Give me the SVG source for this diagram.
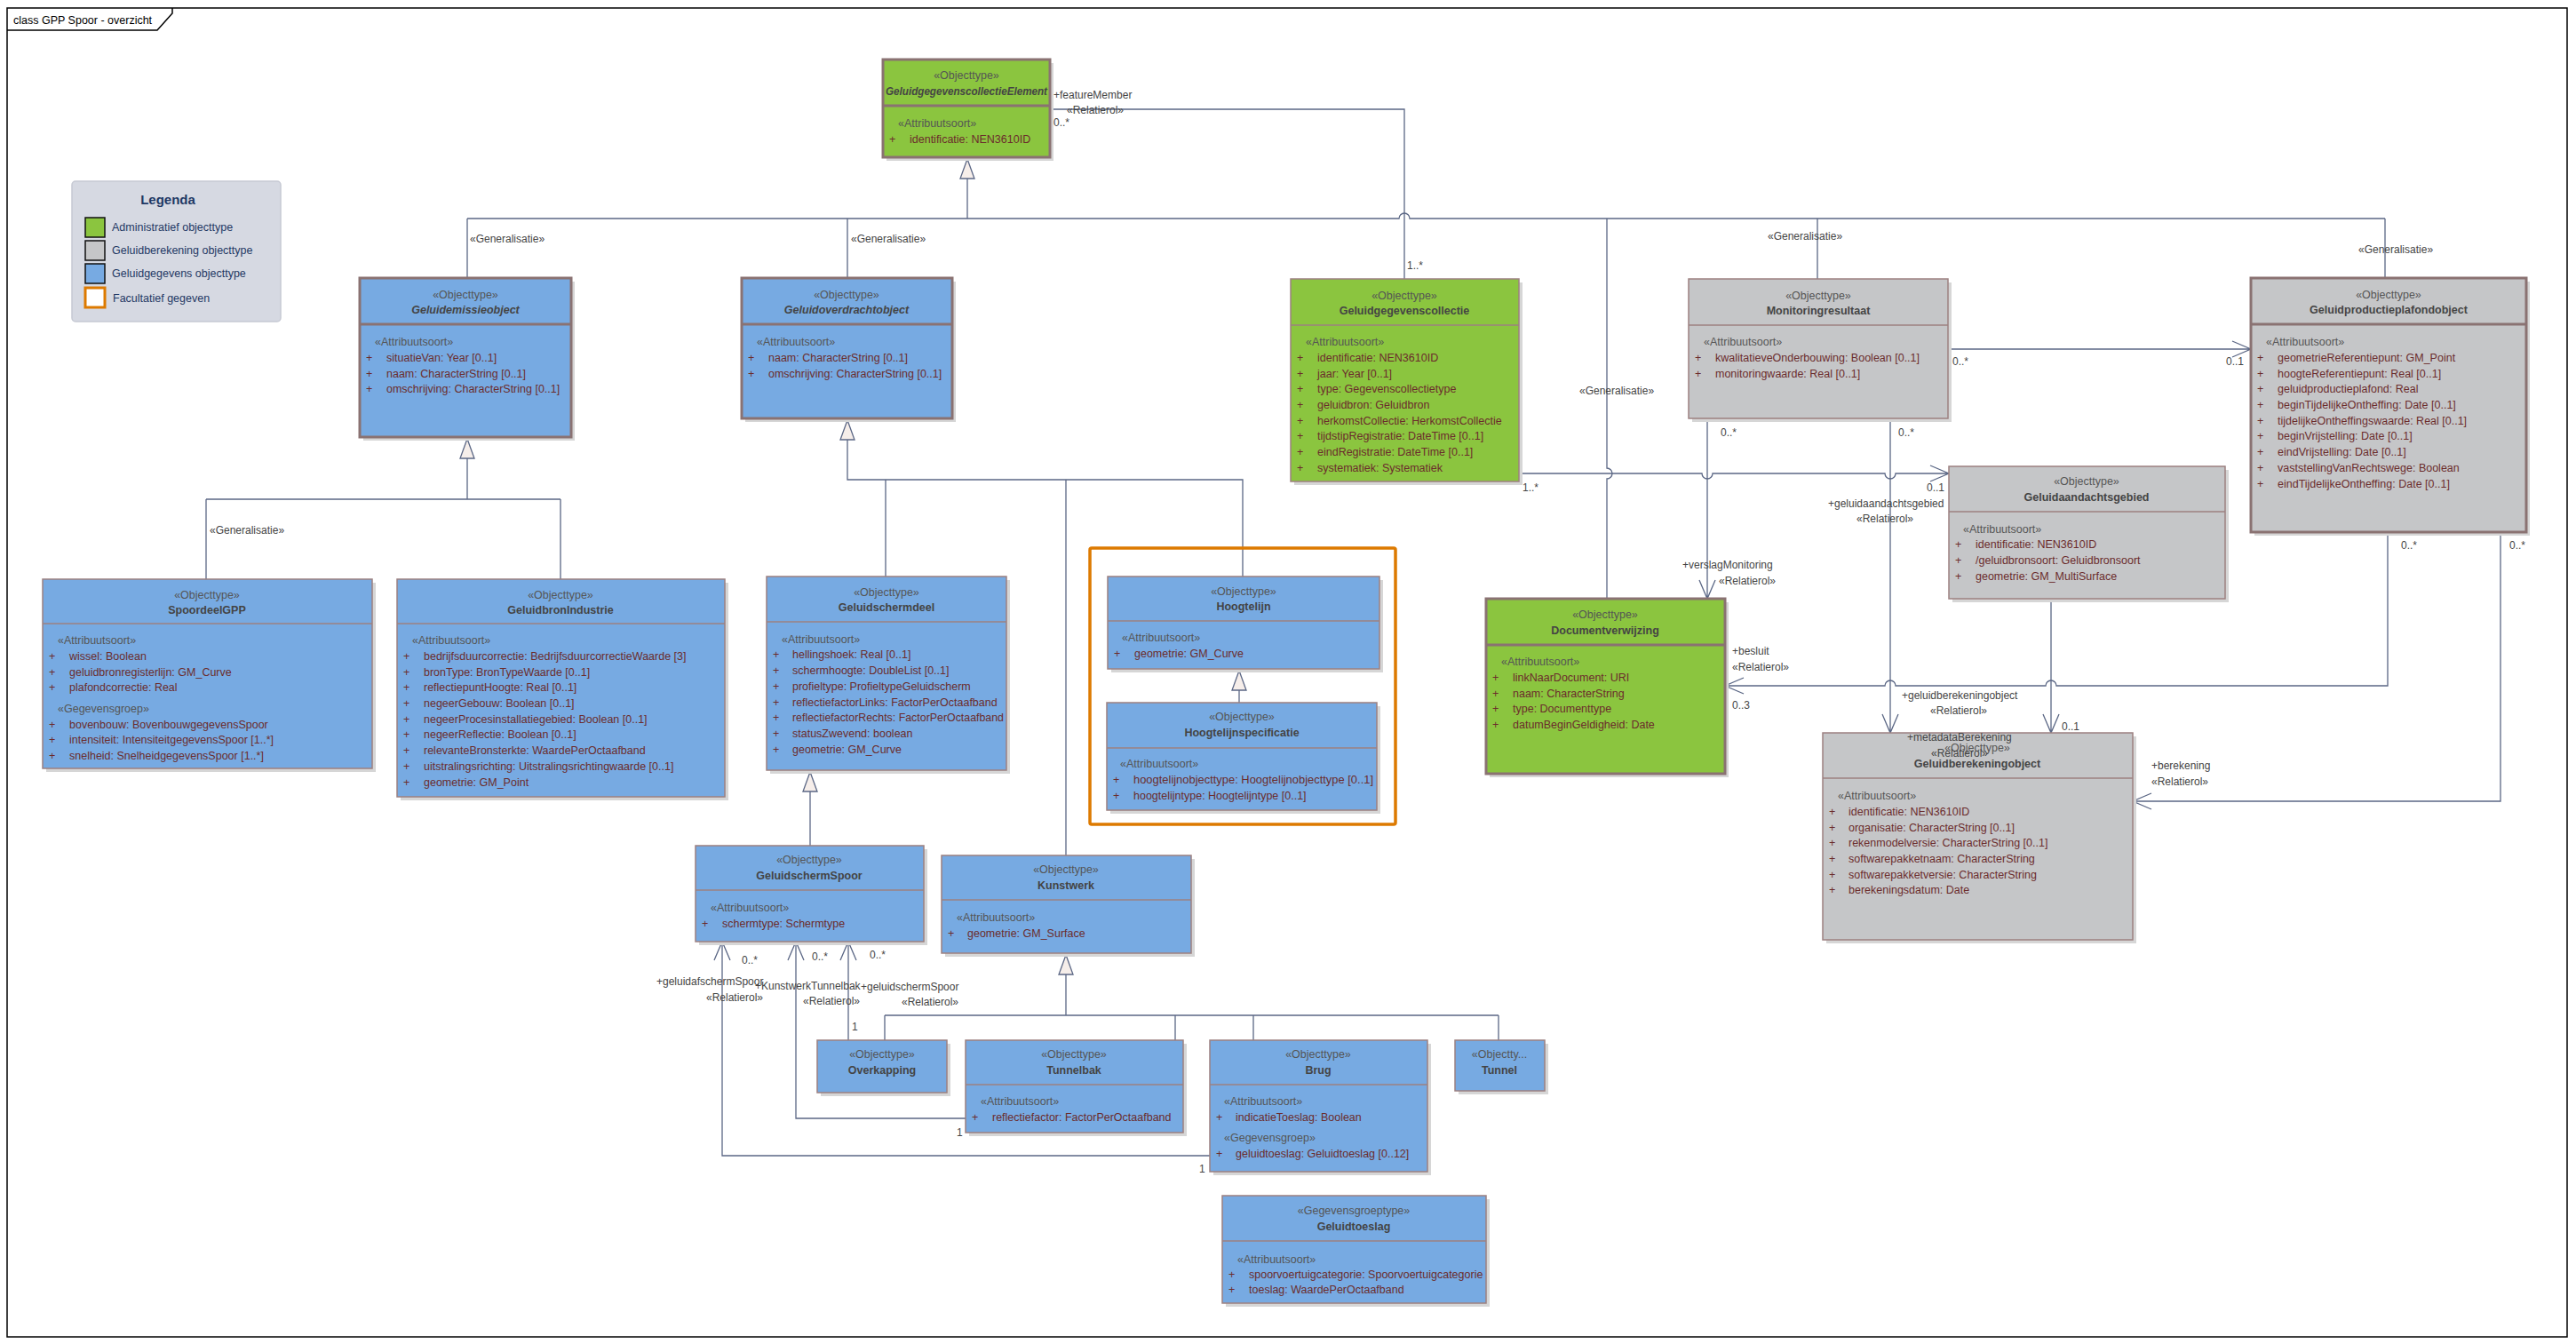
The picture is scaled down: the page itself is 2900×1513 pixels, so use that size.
<svg xmlns="http://www.w3.org/2000/svg" width="2900" height="1513" viewBox="0 0 2900 1513">
<style>
text{font-family:'Liberation Sans',Arial,sans-serif;font-size:12.5px}
.st{fill:#555;text-anchor:middle}
.nm{fill:#444;font-weight:bold;text-anchor:middle}
.it{font-style:italic}
.hd{fill:#555}
.at{fill:#6b2c2c}
.lb{fill:#444;font-size:12px}
.sh{fill:#d6d6d6}
.bg{fill:#8bc53f}
.bb{fill:#77aae2}
.by{fill:#c5c6c8}
.bd{stroke:#9c8080;stroke-width:1.5}
.bt{stroke:#8a7272;stroke-width:3}
.cn{fill:none;stroke:#5b6785;stroke-width:1.3}
.tri{fill:#f6eeea;stroke:#5b6785;stroke-width:1.3}
.lg{fill:#1f3864}
</style>
<rect width="2900" height="1513" fill="#fff"/>
<g id="frame">
<rect x="8" y="9" width="2882" height="1496" fill="none" stroke="#000" stroke-width="1.5"/>
<path d="M8,34 H177 L194,15 V9" fill="none" stroke="#000" stroke-width="1.5"/>
<text x="15" y="27" fill="#000">class GPP Spoor - overzicht</text>
</g>
<g id="legenda">
<rect x="81" y="204" width="235" height="158" rx="4" fill="#d6d9e2" stroke="#c6c9d3" stroke-width="1.5"/>
<text x="189" y="230" class="lg" style="font-size:15px;font-weight:bold;text-anchor:middle">Legenda</text>
<rect x="96" y="245" width="22" height="22" fill="#8bc53f" stroke="#111" stroke-width="1.5"/>
<rect x="96" y="271" width="22" height="22" fill="#c5c6c8" stroke="#111" stroke-width="1.5"/>
<rect x="96" y="297" width="22" height="22" fill="#77aae2" stroke="#111" stroke-width="1.5"/>
<rect x="96" y="324" width="22" height="22" fill="#fff" stroke="#dd7a00" stroke-width="3"/>
<text x="126" y="260" class="lg">Administratief objecttype</text>
<text x="126" y="286" class="lg">Geluidberekening objecttype</text>
<text x="126" y="312" class="lg">Geluidgegevens objecttype</text>
<text x="127" y="340" class="lg">Facultatief gegeven</text>
</g>
<g id="connectors">
<path class="cn" d="M1089,201 V246"/>
<path class="cn" d="M526,246 H1575 A6,6 0 0 1 1587,246 H2685"/>
<path class="cn" d="M526,246 V313 M954,246 V313 M2046,246 V314 M2685,246 V313"/>
<path class="cn" d="M1809,246 V527 A6,6 0 0 1 1809,539 V674"/>
<path class="cn" d="M526,516 V562 M232,562 H631 M232,562 V652 M631,562 V652"/>
<path class="cn" d="M954,495 V540 H1399 V649 M997,540 V649 M1200,540 V963"/>
<path class="cn" d="M912,891 V952"/>
<path class="cn" d="M1395,777 V791"/>
<path class="cn" d="M1200,1097 V1143 M996,1143 H1687 M996,1143 V1171 M1323,1143 V1171 M1411,1143 V1171 M1687,1143 V1171"/>
<path class="cn" d="M1182,123 H1581 V314"/>
<path class="cn" d="M1710,533 H1916 A6,6 0 0 0 1928,533 H2122 A6,6 0 0 0 2134,533 H2194 M2173,524 L2194,533 L2173,542"/>
<path class="cn" d="M2193,393 H2534 M2513,384 L2534,393 L2513,402"/>
<path class="cn" d="M1922,471 V674 M1913,653 L1922,674 L1931,653"/>
<path class="cn" d="M2128,471 V825 M2119,804 L2128,825 L2137,804"/>
<path class="cn" d="M2309,674 V825 M2300,804 L2309,825 L2318,804"/>
<path class="cn" d="M2688,599 V772 H2315 A6,6 0 0 0 2303,772 H2134 A6,6 0 0 0 2122,772 H1942 M1963,763 L1942,772 L1963,781"/>
<path class="cn" d="M2815,599 V902 H2401 M2422,893 L2401,902 L2422,911"/>
<path class="cn" d="M813,1060 V1301 H1362 M804,1081 L813,1060 L822,1081"/>
<path class="cn" d="M896,1060 V1259 H1087 M887,1081 L896,1060 L905,1081"/>
<path class="cn" d="M955,1060 V1171 M946,1081 L955,1060 L964,1081"/>
<polygon class="tri" points="1089,179 1081,201 1097,201"/>
<polygon class="tri" points="526,494 518,516 534,516"/>
<polygon class="tri" points="954,473 946,495 962,495"/>
<polygon class="tri" points="912,869 904,891 920,891"/>
<polygon class="tri" points="1395,755 1387,777 1403,777"/>
<polygon class="tri" points="1200,1075 1192,1097 1208,1097"/>
<text class="lb" x="529" y="273">«Generalisatie»</text>
<text class="lb" x="958" y="273">«Generalisatie»</text>
<text class="lb" x="236" y="601">«Generalisatie»</text>
<text class="lb" x="1778" y="444">«Generalisatie»</text>
<text class="lb" x="1990" y="270">«Generalisatie»</text>
<text class="lb" x="2655" y="285">«Generalisatie»</text>
<text class="lb" x="1186" y="111">+featureMember</text>
<text class="lb" x="1201" y="128">«Relatierol»</text>
<text class="lb" x="1186" y="142">0..*</text>
<text class="lb" x="1584" y="303">1..*</text>
<text class="lb" x="2198" y="411">0..*</text>
<text class="lb" x="2506" y="411">0..1</text>
<text class="lb" x="2557" y="407">+geluidproductieplafondobject</text>
<text class="lb" x="2605" y="427">«Relatierol»</text>
<text class="lb" x="1937" y="491">0..*</text>
<text class="lb" x="2137" y="491">0..*</text>
<text class="lb" x="1714" y="553">1..*</text>
<text class="lb" x="2169" y="553">0..1</text>
<text class="lb" x="2058" y="571">+geluidaandachtsgebied</text>
<text class="lb" x="2090" y="588">«Relatierol»</text>
<text class="lb" x="1894" y="640">+verslagMonitoring</text>
<text class="lb" x="1935" y="658">«Relatierol»</text>
<text class="lb" x="1950" y="737">+besluit</text>
<text class="lb" x="1950" y="755">«Relatierol»</text>
<text class="lb" x="1950" y="798">0..3</text>
<text class="lb" x="2141" y="787">+geluidberekeningobject</text>
<text class="lb" x="2173" y="804">«Relatierol»</text>
<text class="lb" x="2321" y="822">0..1</text>
<text class="lb" x="2422" y="866">+berekening</text>
<text class="lb" x="2422" y="884">«Relatierol»</text>
<text class="lb" x="2703" y="618">0..*</text>
<text class="lb" x="2825" y="618">0..*</text>
<text class="lb" x="835" y="1085">0..*</text>
<text class="lb" x="914" y="1081">0..*</text>
<text class="lb" x="979" y="1079">0..*</text>
<text class="lb" x="739" y="1109">+geluidafschermSpoor</text>
<text class="lb" x="795" y="1127">«Relatierol»</text>
<text class="lb" x="850" y="1114">+KunstwerkTunnelbak</text>
<text class="lb" x="904" y="1131">«Relatierol»</text>
<text class="lb" x="969" y="1115">+geluidschermSpoor</text>
<text class="lb" x="1015" y="1132">«Relatierol»</text>
<text class="lb" x="959" y="1160">1</text>
<text class="lb" x="1077" y="1279">1</text>
<text class="lb" x="1350" y="1320">1</text>
</g>
<g id="GeluidgegevenscollectieElement">
<rect class="sh" x="998" y="71" width="188" height="110"/>
<rect class="bg bt" x="994" y="67" width="188" height="110"/>
<line class="bt" x1="994" y1="119" x2="1182" y2="119"/>
<text class="st" x="1088" y="89">«Objecttype»</text>
<text class="nm it" x="1088" y="107" textLength="182" lengthAdjust="spacingAndGlyphs">GeluidgegevenscollectieElement</text>
<text class="hd" x="1011" y="143">«Attribuutsoort»</text>
<text class="at" x="1001" y="161">+</text><text class="at" x="1024" y="161">identificatie: NEN3610ID</text>
</g>
<g id="Geluidemissieobject">
<rect class="sh" x="409" y="317" width="238" height="179"/>
<rect class="bb bt" x="405" y="313" width="238" height="179"/>
<line class="bt" x1="405" y1="365" x2="643" y2="365"/>
<text class="st" x="524" y="336">«Objecttype»</text>
<text class="nm it" x="524" y="353">Geluidemissieobject</text>
<text class="hd" x="422" y="389">«Attribuutsoort»</text>
<text class="at" x="412" y="407">+</text><text class="at" x="435" y="407">situatieVan: Year [0..1]</text>
<text class="at" x="412" y="425">+</text><text class="at" x="435" y="425">naam: CharacterString [0..1]</text>
<text class="at" x="412" y="442">+</text><text class="at" x="435" y="442">omschrijving: CharacterString [0..1]</text>
</g>
<g id="Geluidoverdrachtobject">
<rect class="sh" x="839" y="317" width="237" height="158"/>
<rect class="bb bt" x="835" y="313" width="237" height="158"/>
<line class="bt" x1="835" y1="365" x2="1072" y2="365"/>
<text class="st" x="953" y="336">«Objecttype»</text>
<text class="nm it" x="953" y="353">Geluidoverdrachtobject</text>
<text class="hd" x="852" y="389">«Attribuutsoort»</text>
<text class="at" x="842" y="407">+</text><text class="at" x="865" y="407">naam: CharacterString [0..1]</text>
<text class="at" x="842" y="425">+</text><text class="at" x="865" y="425">omschrijving: CharacterString [0..1]</text>
</g>
<g id="Geluidgegevenscollectie">
<rect class="sh" x="1457" y="318" width="257" height="228"/>
<rect class="bg bd" x="1453" y="314" width="257" height="228"/>
<line class="bd" x1="1453" y1="366" x2="1710" y2="366"/>
<text class="st" x="1581" y="337">«Objecttype»</text>
<text class="nm" x="1581" y="354">Geluidgegevenscollectie</text>
<text class="hd" x="1470" y="389">«Attribuutsoort»</text>
<text class="at" x="1460" y="407">+</text><text class="at" x="1483" y="407">identificatie: NEN3610ID</text>
<text class="at" x="1460" y="425">+</text><text class="at" x="1483" y="425">jaar: Year [0..1]</text>
<text class="at" x="1460" y="442">+</text><text class="at" x="1483" y="442">type: Gegevenscollectietype</text>
<text class="at" x="1460" y="460">+</text><text class="at" x="1483" y="460">geluidbron: Geluidbron</text>
<text class="at" x="1460" y="478">+</text><text class="at" x="1483" y="478">herkomstCollectie: HerkomstCollectie</text>
<text class="at" x="1460" y="495">+</text><text class="at" x="1483" y="495">tijdstipRegistratie: DateTime [0..1]</text>
<text class="at" x="1460" y="513">+</text><text class="at" x="1483" y="513">eindRegistratie: DateTime [0..1]</text>
<text class="at" x="1460" y="531">+</text><text class="at" x="1483" y="531">systematiek: Systematiek</text>
</g>
<g id="Monitoringresultaat">
<rect class="sh" x="1905" y="318" width="292" height="157"/>
<rect class="by bd" x="1901" y="314" width="292" height="157"/>
<line class="bd" x1="1901" y1="366" x2="2193" y2="366"/>
<text class="st" x="2047" y="337">«Objecttype»</text>
<text class="nm" x="2047" y="354">Monitoringresultaat</text>
<text class="hd" x="1918" y="389">«Attribuutsoort»</text>
<text class="at" x="1908" y="407">+</text><text class="at" x="1931" y="407">kwalitatieveOnderbouwing: Boolean [0..1]</text>
<text class="at" x="1908" y="425">+</text><text class="at" x="1931" y="425">monitoringwaarde: Real [0..1]</text>
</g>
<g id="Geluidproductieplafondobject">
<rect class="sh" x="2538" y="317" width="310" height="286"/>
<rect class="by bt" x="2534" y="313" width="310" height="286"/>
<line class="bt" x1="2534" y1="365" x2="2844" y2="365"/>
<text class="st" x="2689" y="336">«Objecttype»</text>
<text class="nm" x="2689" y="353">Geluidproductieplafondobject</text>
<text class="hd" x="2551" y="389">«Attribuutsoort»</text>
<text class="at" x="2541" y="407">+</text><text class="at" x="2564" y="407">geometrieReferentiepunt: GM_Point</text>
<text class="at" x="2541" y="425">+</text><text class="at" x="2564" y="425">hoogteReferentiepunt: Real [0..1]</text>
<text class="at" x="2541" y="442">+</text><text class="at" x="2564" y="442">geluidproductieplafond: Real</text>
<text class="at" x="2541" y="460">+</text><text class="at" x="2564" y="460">beginTijdelijkeOntheffing: Date [0..1]</text>
<text class="at" x="2541" y="478">+</text><text class="at" x="2564" y="478">tijdelijkeOntheffingswaarde: Real [0..1]</text>
<text class="at" x="2541" y="495">+</text><text class="at" x="2564" y="495">beginVrijstelling: Date [0..1]</text>
<text class="at" x="2541" y="513">+</text><text class="at" x="2564" y="513">eindVrijstelling: Date [0..1]</text>
<text class="at" x="2541" y="531">+</text><text class="at" x="2564" y="531">vaststellingVanRechtswege: Boolean</text>
<text class="at" x="2541" y="549">+</text><text class="at" x="2564" y="549">eindTijdelijkeOntheffing: Date [0..1]</text>
</g>
<g id="Geluidaandachtsgebied">
<rect class="sh" x="2198" y="529" width="311" height="149"/>
<rect class="by bd" x="2194" y="525" width="311" height="149"/>
<line class="bd" x1="2194" y1="576" x2="2505" y2="576"/>
<text class="st" x="2349" y="546">«Objecttype»</text>
<text class="nm" x="2349" y="564">Geluidaandachtsgebied</text>
<text class="hd" x="2210" y="600">«Attribuutsoort»</text>
<text class="at" x="2201" y="617">+</text><text class="at" x="2224" y="617">identificatie: NEN3610ID</text>
<text class="at" x="2201" y="635">+</text><text class="at" x="2224" y="635">/geluidbronsoort: Geluidbronsoort</text>
<text class="at" x="2201" y="653">+</text><text class="at" x="2224" y="653">geometrie: GM_MultiSurface</text>
</g>
<g id="Documentverwijzing">
<rect class="sh" x="1677" y="678" width="269" height="197"/>
<rect class="bg bt" x="1673" y="674" width="269" height="197"/>
<line class="bt" x1="1673" y1="726" x2="1942" y2="726"/>
<text class="st" x="1807" y="696">«Objecttype»</text>
<text class="nm" x="1807" y="714">Documentverwijzing</text>
<text class="hd" x="1690" y="749">«Attribuutsoort»</text>
<text class="at" x="1680" y="767">+</text><text class="at" x="1703" y="767">linkNaarDocument: URI</text>
<text class="at" x="1680" y="785">+</text><text class="at" x="1703" y="785">naam: CharacterString</text>
<text class="at" x="1680" y="802">+</text><text class="at" x="1703" y="802">type: Documenttype</text>
<text class="at" x="1680" y="820">+</text><text class="at" x="1703" y="820">datumBeginGeldigheid: Date</text>
</g>
<g id="Geluidberekeningobject">
<rect class="sh" x="2056" y="829" width="349" height="233"/>
<rect class="by bd" x="2052" y="825" width="349" height="233"/>
<line class="bd" x1="2052" y1="876" x2="2401" y2="876"/>
<text class="st" x="2226" y="846">«Objecttype»</text>
<text class="nm" x="2226" y="864">Geluidberekeningobject</text>
<text class="hd" x="2069" y="900">«Attribuutsoort»</text>
<text class="at" x="2059" y="918">+</text><text class="at" x="2081" y="918">identificatie: NEN3610ID</text>
<text class="at" x="2059" y="936">+</text><text class="at" x="2081" y="936">organisatie: CharacterString [0..1]</text>
<text class="at" x="2059" y="953">+</text><text class="at" x="2081" y="953">rekenmodelversie: CharacterString [0..1]</text>
<text class="at" x="2059" y="971">+</text><text class="at" x="2081" y="971">softwarepakketnaam: CharacterString</text>
<text class="at" x="2059" y="989">+</text><text class="at" x="2081" y="989">softwarepakketversie: CharacterString</text>
<text class="at" x="2059" y="1006">+</text><text class="at" x="2081" y="1006">berekeningsdatum: Date</text>
<text class="lb" x="2147" y="834">+metadataBerekening</text>
<text class="lb" x="2174" y="852">«Relatierol»</text>
</g>
<g id="SpoordeelGPP">
<rect class="sh" x="52" y="656" width="371" height="213"/>
<rect class="bb bd" x="48" y="652" width="371" height="213"/>
<line class="bd" x1="48" y1="702" x2="419" y2="702"/>
<text class="st" x="233" y="674">«Objecttype»</text>
<text class="nm" x="233" y="691">SpoordeelGPP</text>
<text class="hd" x="65" y="725">«Attribuutsoort»</text>
<text class="at" x="55" y="743">+</text><text class="at" x="78" y="743">wissel: Boolean</text>
<text class="at" x="55" y="761">+</text><text class="at" x="78" y="761">geluidbronregisterlijn: GM_Curve</text>
<text class="at" x="55" y="778">+</text><text class="at" x="78" y="778">plafondcorrectie: Real</text>
<text class="hd" x="65" y="802">«Gegevensgroep»</text>
<text class="at" x="55" y="820">+</text><text class="at" x="78" y="820">bovenbouw: BovenbouwgegevensSpoor</text>
<text class="at" x="55" y="837">+</text><text class="at" x="78" y="837">intensiteit: IntensiteitgegevensSpoor [1..*]</text>
<text class="at" x="55" y="855">+</text><text class="at" x="78" y="855">snelheid: SnelheidgegevensSpoor [1..*]</text>
</g>
<g id="GeluidbronIndustrie">
<rect class="sh" x="451" y="656" width="369" height="245"/>
<rect class="bb bd" x="447" y="652" width="369" height="245"/>
<line class="bd" x1="447" y1="702" x2="816" y2="702"/>
<text class="st" x="631" y="674">«Objecttype»</text>
<text class="nm" x="631" y="691">GeluidbronIndustrie</text>
<text class="hd" x="464" y="725">«Attribuutsoort»</text>
<text class="at" x="454" y="743">+</text><text class="at" x="477" y="743">bedrijfsduurcorrectie: BedrijfsduurcorrectieWaarde [3]</text>
<text class="at" x="454" y="761">+</text><text class="at" x="477" y="761">bronType: BronTypeWaarde [0..1]</text>
<text class="at" x="454" y="778">+</text><text class="at" x="477" y="778">reflectiepuntHoogte: Real [0..1]</text>
<text class="at" x="454" y="796">+</text><text class="at" x="477" y="796">negeerGebouw: Boolean [0..1]</text>
<text class="at" x="454" y="814">+</text><text class="at" x="477" y="814">negeerProcesinstallatiegebied: Boolean [0..1]</text>
<text class="at" x="454" y="831">+</text><text class="at" x="477" y="831">negeerReflectie: Boolean [0..1]</text>
<text class="at" x="454" y="849">+</text><text class="at" x="477" y="849">relevanteBronsterkte: WaardePerOctaafband</text>
<text class="at" x="454" y="867">+</text><text class="at" x="477" y="867">uitstralingsrichting: Uitstralingsrichtingwaarde [0..1]</text>
<text class="at" x="454" y="885">+</text><text class="at" x="477" y="885">geometrie: GM_Point</text>
</g>
<g id="Geluidschermdeel">
<rect class="sh" x="867" y="653" width="270" height="218"/>
<rect class="bb bd" x="863" y="649" width="270" height="218"/>
<line class="bd" x1="863" y1="700" x2="1133" y2="700"/>
<text class="st" x="998" y="671">«Objecttype»</text>
<text class="nm" x="998" y="688">Geluidschermdeel</text>
<text class="hd" x="880" y="724">«Attribuutsoort»</text>
<text class="at" x="870" y="741">+</text><text class="at" x="892" y="741">hellingshoek: Real [0..1]</text>
<text class="at" x="870" y="759">+</text><text class="at" x="892" y="759">schermhoogte: DoubleList [0..1]</text>
<text class="at" x="870" y="777">+</text><text class="at" x="892" y="777">profieltype: ProfieltypeGeluidscherm</text>
<text class="at" x="870" y="795">+</text><text class="at" x="892" y="795">reflectiefactorLinks: FactorPerOctaafband</text>
<text class="at" x="870" y="812">+</text><text class="at" x="892" y="812" textLength="238" lengthAdjust="spacingAndGlyphs">reflectiefactorRechts: FactorPerOctaafband</text>
<text class="at" x="870" y="830">+</text><text class="at" x="892" y="830">statusZwevend: boolean</text>
<text class="at" x="870" y="848">+</text><text class="at" x="892" y="848">geometrie: GM_Curve</text>
</g>
<g id="Facultatief">
<rect x="1227" y="617" width="344" height="311" rx="2" fill="none" stroke="#dd7a00" stroke-width="3.5"/>
</g>
<g id="Hoogtelijn">
<rect class="sh" x="1251" y="653" width="306" height="104"/>
<rect class="bb bd" x="1247" y="649" width="306" height="104"/>
<line class="bd" x1="1247" y1="699" x2="1553" y2="699"/>
<text class="st" x="1400" y="670">«Objecttype»</text>
<text class="nm" x="1400" y="687">Hoogtelijn</text>
<text class="hd" x="1263" y="722">«Attribuutsoort»</text>
<text class="at" x="1254" y="740">+</text><text class="at" x="1277" y="740">geometrie: GM_Curve</text>
</g>
<g id="Hoogtelijnspecificatie">
<rect class="sh" x="1250" y="795" width="304" height="121"/>
<rect class="bb bd" x="1246" y="791" width="304" height="121"/>
<line class="bd" x1="1246" y1="842" x2="1550" y2="842"/>
<text class="st" x="1398" y="811">«Objecttype»</text>
<text class="nm" x="1398" y="829">Hoogtelijnspecificatie</text>
<text class="hd" x="1261" y="864">«Attribuutsoort»</text>
<text class="at" x="1253" y="882">+</text><text class="at" x="1276" y="882" textLength="270" lengthAdjust="spacingAndGlyphs">hoogtelijnobjecttype: Hoogtelijnobjecttype [0..1]</text>
<text class="at" x="1253" y="900">+</text><text class="at" x="1276" y="900">hoogtelijntype: Hoogtelijntype [0..1]</text>
</g>
<g id="GeluidschermSpoor">
<rect class="sh" x="787" y="956" width="257" height="108"/>
<rect class="bb bd" x="783" y="952" width="257" height="108"/>
<line class="bd" x1="783" y1="1002" x2="1040" y2="1002"/>
<text class="st" x="911" y="972">«Objecttype»</text>
<text class="nm" x="911" y="990">GeluidschermSpoor</text>
<text class="hd" x="800" y="1026">«Attribuutsoort»</text>
<text class="at" x="790" y="1044">+</text><text class="at" x="813" y="1044">schermtype: Schermtype</text>
</g>
<g id="Kunstwerk">
<rect class="sh" x="1064" y="967" width="281" height="110"/>
<rect class="bb bd" x="1060" y="963" width="281" height="110"/>
<line class="bd" x1="1060" y1="1013" x2="1341" y2="1013"/>
<text class="st" x="1200" y="983">«Objecttype»</text>
<text class="nm" x="1200" y="1001">Kunstwerk</text>
<text class="hd" x="1077" y="1037">«Attribuutsoort»</text>
<text class="at" x="1067" y="1055">+</text><text class="at" x="1089" y="1055">geometrie: GM_Surface</text>
</g>
<g id="Overkapping">
<rect class="sh" x="924" y="1175" width="146" height="59"/>
<rect class="bb bd" x="920" y="1171" width="146" height="59"/>
<text class="st" x="993" y="1191">«Objecttype»</text>
<text class="nm" x="993" y="1209">Overkapping</text>
</g>
<g id="Tunnelbak">
<rect class="sh" x="1091" y="1175" width="245" height="104"/>
<rect class="bb bd" x="1087" y="1171" width="245" height="104"/>
<line class="bd" x1="1087" y1="1221" x2="1332" y2="1221"/>
<text class="st" x="1209" y="1191">«Objecttype»</text>
<text class="nm" x="1209" y="1209">Tunnelbak</text>
<text class="hd" x="1104" y="1244">«Attribuutsoort»</text>
<text class="at" x="1094" y="1262">+</text><text class="at" x="1117" y="1262">reflectiefactor: FactorPerOctaafband</text>
</g>
<g id="Brug">
<rect class="sh" x="1366" y="1175" width="245" height="148"/>
<rect class="bb bd" x="1362" y="1171" width="245" height="148"/>
<line class="bd" x1="1362" y1="1221" x2="1607" y2="1221"/>
<text class="st" x="1484" y="1191">«Objecttype»</text>
<text class="nm" x="1484" y="1209">Brug</text>
<text class="hd" x="1378" y="1244">«Attribuutsoort»</text>
<text class="at" x="1369" y="1262">+</text><text class="at" x="1391" y="1262">indicatieToeslag: Boolean</text>
<text class="hd" x="1378" y="1285">«Gegevensgroep»</text>
<text class="at" x="1369" y="1303">+</text><text class="at" x="1391" y="1303">geluidtoeslag: Geluidtoeslag [0..12]</text>
</g>
<g id="Tunnel">
<rect class="sh" x="1642" y="1175" width="101" height="57"/>
<rect class="bb bd" x="1638" y="1171" width="101" height="57"/>
<text class="st" x="1688" y="1191">«Objectty...</text>
<text class="nm" x="1688" y="1209">Tunnel</text>
</g>
<g id="Geluidtoeslag">
<rect class="sh" x="1380" y="1350" width="297" height="121"/>
<rect class="bb bd" x="1376" y="1346" width="297" height="121"/>
<line class="bd" x1="1376" y1="1397" x2="1673" y2="1397"/>
<text class="st" x="1524" y="1367">«Gegevensgroeptype»</text>
<text class="nm" x="1524" y="1385">Geluidtoeslag</text>
<text class="hd" x="1393" y="1422">«Attribuutsoort»</text>
<text class="at" x="1383" y="1439">+</text><text class="at" x="1406" y="1439">spoorvoertuigcategorie: Spoorvoertuigcategorie</text>
<text class="at" x="1383" y="1456">+</text><text class="at" x="1406" y="1456">toeslag: WaardePerOctaafband</text>
</g>
</svg>
